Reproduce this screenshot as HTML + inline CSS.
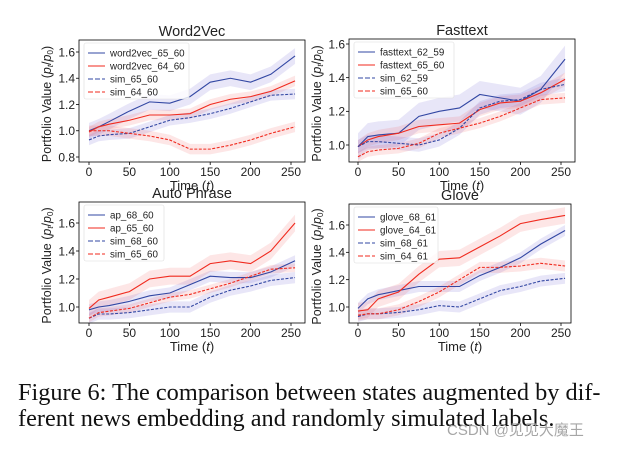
<!DOCTYPE html>
<html><head><meta charset="utf-8">
<style>
body{margin:0;background:#fff;width:630px;height:449px;overflow:hidden;position:relative;font-family:"Liberation Sans","DejaVu Sans",sans-serif}
#cap{position:absolute;left:18px;top:380px;font-family:"Liberation Serif",serif;font-size:24.3px;line-height:26px;color:#111;white-space:nowrap}
#wm{position:absolute;left:447px;top:419px;font-family:"Liberation Sans","Noto Sans CJK SC",sans-serif;font-size:15px;color:rgba(150,150,150,0.85)}
</style></head><body>
<svg id="fig" width="630" height="370" style="position:absolute;left:0;top:0"></svg>
<div id="cap">Figure 6: The comparison between states augmented by dif-<br>ferent news embedding and randomly simulated labels.</div>
<div id="wm">CSDN @见见大魔王</div>
<script>
const times=[0,12,25,50,75,100,125,150,175,200,225,255];
const xTicks=[0,50,100,150,200,250];
// Word2Vec
const w2vBlue=[1.0,1.03,1.07,1.15,1.22,1.21,1.26,1.37,1.40,1.37,1.43,1.57];
const w2vRed=[0.99,1.03,1.05,1.08,1.12,1.12,1.13,1.20,1.24,1.26,1.30,1.38];
const w2vSimBlue=[0.93,0.96,0.97,0.98,1.03,1.08,1.10,1.13,1.17,1.22,1.27,1.28];
const w2vSimRed=[1.0,1.0,1.0,0.98,0.96,0.93,0.86,0.86,0.89,0.93,0.98,1.03];
const w2vTicks=[0.8,1.0,1.2,1.4,1.6];
// Fasttext
const ftBlue=[0.99,1.05,1.06,1.07,1.17,1.20,1.22,1.30,1.28,1.26,1.33,1.51];
const ftRed=[0.99,1.03,1.05,1.07,1.11,1.12,1.13,1.21,1.25,1.26,1.31,1.39];
const ftSimBlue=[0.99,1.02,1.02,1.01,1.00,1.03,1.10,1.22,1.26,1.27,1.33,1.36];
const ftSimRed=[0.93,0.96,0.97,0.98,1.01,1.07,1.10,1.13,1.17,1.22,1.27,1.28];
const ftTicks=[1.0,1.2,1.4,1.6];
// Auto Phrase
const apBlue=[0.98,1.00,1.01,1.04,1.08,1.10,1.16,1.22,1.21,1.21,1.25,1.33];
const apRed=[0.99,1.05,1.07,1.11,1.20,1.22,1.22,1.31,1.33,1.31,1.40,1.60];
const apSimBlue=[0.92,0.95,0.95,0.96,0.98,1.00,1.00,1.07,1.12,1.15,1.19,1.21];
const apSimRed=[0.92,0.96,0.97,0.99,1.03,1.07,1.09,1.13,1.17,1.22,1.27,1.28];
const apTicks=[1.0,1.2,1.4,1.6];
// Glove
const glBlue=[0.99,1.06,1.09,1.12,1.15,1.15,1.15,1.23,1.29,1.36,1.46,1.56];
const glRed=[0.97,0.98,1.06,1.11,1.24,1.35,1.36,1.44,1.52,1.61,1.64,1.67];
const glSimBlue=[0.93,0.95,0.95,0.96,0.98,1.01,1.00,1.06,1.12,1.15,1.19,1.21];
const glSimRed=[0.94,0.95,0.95,0.98,1.04,1.11,1.20,1.29,1.29,1.30,1.32,1.30];
const glTicks=[1.0,1.2,1.4,1.6];

const NS="http://www.w3.org/2000/svg";
const svg=document.getElementById('fig');
const BLUE="#3247a3",RED="#f02a1e";
function mk(tag,attrs,parent){const e=document.createElementNS(NS,tag);for(const k in attrs)e.setAttribute(k,attrs[k]);(parent||svg).appendChild(e);return e;}

function panel(cfg){
  const g=mk('g',{});
  
  
  const xs=t=>cfg.x0+(t/250)*(cfg.x250-cfg.x0);
  const ys=v=>cfg.yA+(v-cfg.vA)*(cfg.yB-cfg.yA)/(cfg.vB-cfg.vA);
  cfg.series.forEach(s=>{
    let up=times.map((t,i)=>xs(t)+','+ys(s.data[i]+s.w)).join(' ');
    let lo=times.map((t,i)=>xs(t)+','+ys(s.data[i]-s.w)).reverse().join(' ');
    const b=mk('polygon',{points:up+' '+lo,fill:s.color==BLUE?'rgba(110,100,210,0.16)':'rgba(240,90,90,0.15)',stroke:'none'},g);
    
    
  });
  cfg.series.forEach(s=>{
    const l=mk('polyline',{points:times.map((t,i)=>xs(t)+','+ys(s.data[i])).join(' '),fill:'none',stroke:s.color,'stroke-width':1.1,'stroke-dasharray':s.dash?'3,1.5':'none'},g);
    
    
  });
  const box=mk('rect',{x:cfg.L,y:cfg.T,width:cfg.R-cfg.L,height:cfg.B-cfg.T,fill:'none',stroke:'#000','stroke-width':0.8},g);
  
  
  xTicks.forEach(t=>{
    mk('line',{x1:xs(t),x2:xs(t),y1:cfg.B,y2:cfg.B+3,stroke:'#000','stroke-width':0.8},g);
    const tx=mk('text',{x:xs(t),y:cfg.B+14,'font-size':12,'text-anchor':'middle',fill:'#222'},g);
    tx.textContent=t;
    
    
  });
  cfg.yTicks.forEach(v=>{
    mk('line',{x1:cfg.L-3,x2:cfg.L,y1:ys(v),y2:ys(v),stroke:'#000','stroke-width':0.8},g);
    const tx=mk('text',{x:cfg.L-4,y:ys(v)+4.3,'font-size':12,'text-anchor':'end',fill:'#222'},g);
    tx.textContent=v.toFixed(1);
    
    
  });
  const ti=mk('text',{x:(cfg.L+cfg.R)/2,y:cfg.T-4,'font-size':14.5,'text-anchor':'middle',fill:'#222'},g);
  ti.textContent=cfg.title;
  
  
  const xl=mk('text',{x:(cfg.L+cfg.R)/2,y:cfg.B+28,'font-size':13,'text-anchor':'middle',fill:'#222'},g);
  xl.innerHTML='Time (<tspan font-style="italic">t</tspan>)';
  
  
  const cy=(cfg.T+cfg.B)/2+3, cx=cfg.L-28;
  const yl=mk('text',{x:cx,y:cy,'font-size':12.5,'text-anchor':'middle',fill:'#222',transform:`rotate(-90 ${cx} ${cy})`},g);
  yl.innerHTML='Portfolio Value (<tspan font-style="italic">p</tspan><tspan font-size="8" dy="2" font-style="italic">t</tspan><tspan dy="-2">/</tspan><tspan font-style="italic">p</tspan><tspan font-size="8" dy="2">0</tspan><tspan dy="-2">)</tspan>';
  
  
  const lx=cfg.L+5, ly=cfg.T+3;
  const lg=mk('rect',{x:lx,y:ly,width:cfg.legW,height:56,fill:'rgba(255,255,255,0.8)',stroke:'#ddd','stroke-width':0.6,rx:2},g);
  
  
  cfg.series.forEach((s,i)=>{
    const yy=ly+10+i*13;
    mk('line',{x1:lx+4,x2:lx+21,y1:yy,y2:yy,stroke:s.color,'stroke-width':1.1,'stroke-dasharray':s.dash?'5,2':'none'},g);
    const tx=mk('text',{x:lx+26,y:yy+3.5,'font-size':9.8,fill:'#222'},g);
    tx.textContent=s.label;
    
    
  });
}
panel({name:'word2vec-chart',title:'Word2Vec',L:79,R:305,T:40,B:162,x0:89,x250:291,vA:1.6,yA:52,vB:0.8,yB:157,yTicks:w2vTicks,legW:105,
 series:[{label:'word2vec_65_60',data:w2vBlue,color:BLUE,w:0.06},{label:'word2vec_64_60',data:w2vRed,color:RED,w:0.04},
 {label:'sim_65_60',data:w2vSimBlue,color:BLUE,dash:1,w:0.04},{label:'sim_64_60',data:w2vSimRed,color:RED,dash:1,w:0.04}]});
panel({name:'fasttext-chart',title:'Fasttext',L:349,R:575,T:39,B:162,x0:358,x250:561,vA:1.6,yA:44,vB:1.0,yB:145,yTicks:ftTicks,legW:100,
 series:[{label:'fasttext_62_59',data:ftBlue,color:BLUE,w:0.08},{label:'fasttext_65_60',data:ftRed,color:RED,w:0.04},
 {label:'sim_62_59',data:ftSimBlue,color:BLUE,dash:1,w:0.04},{label:'sim_65_60',data:ftSimRed,color:RED,dash:1,w:0.03}]});
panel({name:'auto-phrase-chart',title:'Auto Phrase',L:79,R:305,T:202,B:323,x0:89,x250:291,vA:1.6,yA:223,vB:1.0,yB:307,yTicks:apTicks,legW:80,
 series:[{label:'ap_68_60',data:apBlue,color:BLUE,w:0.04},{label:'ap_65_60',data:apRed,color:RED,w:0.06},
 {label:'sim_68_60',data:apSimBlue,color:BLUE,dash:1,w:0.04},{label:'sim_65_60',data:apSimRed,color:RED,dash:1,w:0.03}]});
panel({name:'glove-chart',title:'Glove',L:349,R:571,T:204,B:323,x0:358,x250:561,vA:1.6,yA:225,vB:1.0,yB:307,yTicks:glTicks,legW:84,
 series:[{label:'glove_68_61',data:glBlue,color:BLUE,w:0.04},{label:'glove_64_61',data:glRed,color:RED,w:0.06},
 {label:'sim_68_61',data:glSimBlue,color:BLUE,dash:1,w:0.04},{label:'sim_64_61',data:glSimRed,color:RED,dash:1,w:0.04}]});
</script>
</body></html>
